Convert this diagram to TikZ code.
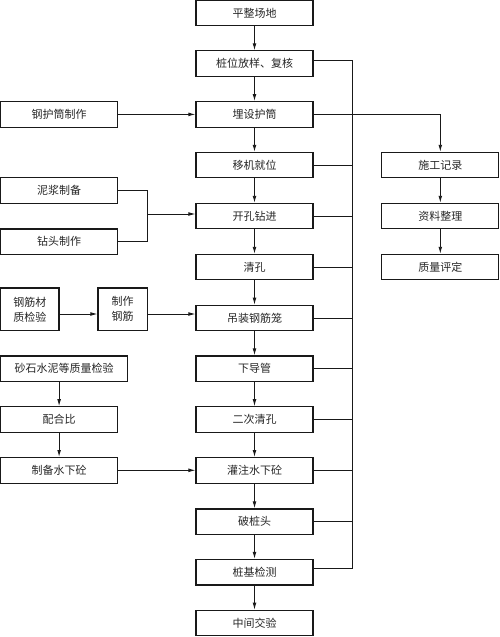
\documentclass[tikz,border=0pt]{standalone}
\usepackage{fontspec}
\setmainfont{Noto Sans CJK SC}
\usetikzlibrary{arrows.meta}
\tikzset{
  box/.style={draw=black!90, line width=1.1pt, minimum height=25.5pt, inner sep=0pt, font=\fontsize{11}{15}\selectfont, text=black!85},
  conn/.style={draw=black!90, line width=0.9pt},
  arr/.style={conn, -{Latex[length=7pt,width=3.8pt]}}
}
\begin{document}
\begin{tikzpicture}[x=1pt,y=-1pt]
\useasboundingbox (0,0) rectangle (500,637);
% main column
\node[box, minimum width=117pt] (m0) at (254.5,12.9) {平整场地};
\node[box, minimum width=117pt] (m1) at (254.5,63.6) {桩位放样、复核};
\node[box, minimum width=117pt] (m2) at (254.5,114.4) {埋设护筒};
\node[box, minimum width=117pt] (m3) at (254.5,165.1) {移机就位};
\node[box, minimum width=117pt] (m4) at (254.5,216.1) {开孔钻进};
\node[box, minimum width=117pt] (m5) at (254.5,267.1) {清孔};
\node[box, minimum width=117pt] (m6) at (254.5,318.0) {吊装钢筋笼};
\node[box, minimum width=117pt] (m7) at (254.5,368.7) {下导管};
\node[box, minimum width=117pt] (m8) at (254.5,419.5) {二次清孔};
\node[box, minimum width=117pt] (m9) at (254.5,470.3) {灌注水下砼};
\node[box, minimum width=117pt] (m10) at (254.5,521.7) {破桩头};
\node[box, minimum width=117pt] (m11) at (254.5,572.2) {桩基检测};
\node[box, minimum width=117pt] (m12) at (254.5,623.0) {中间交验};
% right column
\node[box, minimum width=117pt] (r1) at (440.3,165.1) {施工记录};
\node[box, minimum width=117pt] (r2) at (440.3,216.1) {资料整理};
\node[box, minimum width=117pt] (r3) at (440.3,267.1) {质量评定};
% left column
\node[box, minimum width=117.2pt] (l1) at (59.1,114.4) {钢护筒制作};
\node[box, minimum width=117.2pt] (l2) at (59.1,190.5) {泥浆制备};
\node[box, minimum width=117.2pt] (l3) at (59.1,241.7) {钻头制作};
\node[box, minimum width=58.5pt, minimum height=42.7pt, align=center] (l4) at (29.75,309.3) {钢筋材\\质检验};
\node[box, minimum width=49.3pt, minimum height=42.7pt, align=center] (l5) at (122.65,309.3) {制作\\钢筋};
\node[box, minimum width=127.2pt] (l6) at (64.1,368.7) {砂石水泥等质量检验};
\node[box, minimum width=117.2pt] (l7) at (59.1,419.5) {配合比};
\node[box, minimum width=117.2pt] (l8) at (59.1,470.3) {制备水下砼};
% main arrows
\foreach \a/\b in {m0/m1,m1/m2,m2/m3,m3/m4,m4/m5,m5/m6,m6/m7,m7/m8,m8/m9,m9/m10,m10/m11,m11/m12}
  \draw[arr] (\a.south) -- (\b.north);
\draw[arr] (r1.south) -- (r2.north);
\draw[arr] (r2.south) -- (r3.north);
% bus
\coordinate (bt) at (352.3,60.5);
\coordinate (bb) at (352.3,568.5);
\draw[conn] (m1.east |- bt) -- (bt) -- (bb) -- (m11.east |- bb);
\foreach \n in {m3,m4,m5,m6,m7,m8,m9,m10}
  \draw[conn] (\n.east) -- (bt |- \n.east);
\draw[arr] (m2.east) -- (r1.north |- m2.east) -- (r1.north);
% left arrows
\draw[arr] (l1.east) -- (m2.west);
\coordinate (br) at (147,214);
\draw[conn] (l2.east) -- (br |- l2.east) -- (br |- l3.east) -- (l3.east);
\draw[arr] (br) -- (m4.west |- br);
\draw[arr] (l4.east |- 0,314) -- (l5.west |- 0,314);
\draw[arr] (l5.east |- 0,314) -- (m6.west |- 0,314);
\draw[arr] (l7.north |- l6.south) -- (l7.north);
\draw[arr] (l7.south) -- (l8.north);
\draw[arr] (l8.east) -- (m9.west);
\end{tikzpicture}
\end{document}
